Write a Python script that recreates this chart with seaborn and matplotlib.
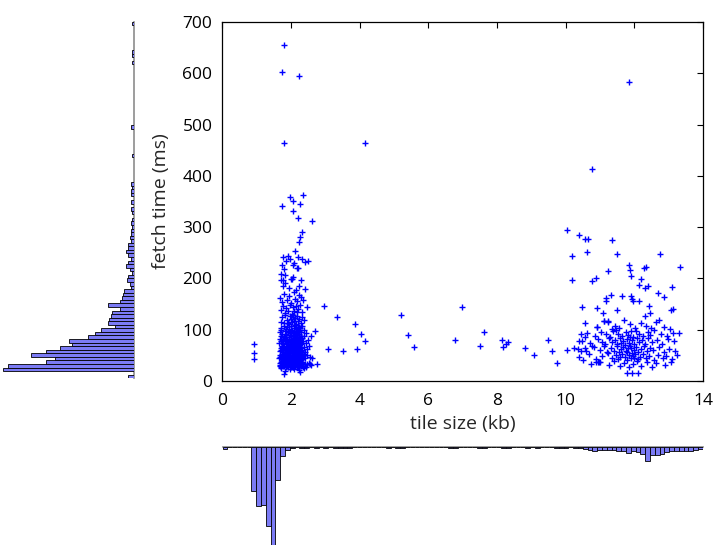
import numpy as np
import pandas as pd
import matplotlib
matplotlib.use("Agg")
import matplotlib.pyplot as plt
import seaborn as sns

# (tile size kb, fetch time ms) pairs
left_core = [
    (1.81, 14), (2.27, 17), (1.82, 20), (2.08, 24), (2.25, 22), (1.70, 25), (2.38, 26), (1.96, 23),
    # 27-40 ms
    (1.67, 31), (1.70, 36), (1.72, 28), (1.74, 39), (1.77, 33), (1.79, 29), (1.81, 37), (1.83, 32),
    (1.85, 27), (1.86, 35), (1.88, 39), (1.90, 30), (1.92, 34), (1.93, 28), (1.95, 38), (1.97, 31),
    (1.98, 36), (2.00, 29), (2.02, 33), (2.03, 39), (2.05, 27), (2.06, 35), (2.08, 31), (2.09, 37),
    (2.11, 29), (2.12, 34), (2.14, 39), (2.15, 32), (2.17, 28), (2.18, 36), (2.19, 30), (2.21, 38),
    (2.22, 33), (2.23, 27), (2.25, 35), (2.26, 31), (2.27, 39), (2.29, 29), (2.31, 34), (2.33, 37),
    (2.36, 30), (2.40, 33), (2.45, 28), (2.52, 35), (2.58, 31), (1.69, 34), (1.76, 30), (1.84, 38),
    (1.91, 36), (1.99, 27), (2.04, 30), (2.10, 38), (2.16, 34), (2.20, 27), (2.24, 30), (2.28, 36),
    (1.80, 34), (1.94, 32), (2.07, 28), (2.13, 36), (2.48, 32), (2.56, 32),
    (1.68, 29), (1.75, 36), (1.87, 31), (1.96, 35), (2.01, 37), (2.11, 32), (2.19, 34), (2.23, 36),
    (2.30, 31), (2.34, 28), (1.78, 38), (2.05, 33),
    # 40-55 ms
    (1.66, 44), (1.68, 51), (1.71, 47), (1.73, 42), (1.75, 53), (1.78, 45), (1.80, 50), (1.82, 41),
    (1.84, 48), (1.87, 54), (1.89, 43), (1.90, 49), (1.92, 52), (1.94, 46), (1.96, 41), (1.98, 50),
    (2.01, 44), (2.02, 54), (2.04, 47), (2.06, 42), (2.07, 51), (2.09, 45), (2.11, 53), (2.12, 48),
    (2.14, 42), (2.15, 50), (2.17, 45), (2.18, 54), (2.19, 41), (2.20, 48), (2.22, 52), (2.23, 44),
    (2.24, 49), (2.26, 43), (2.27, 53), (2.29, 47), (2.30, 51), (2.32, 42), (2.35, 48), (2.38, 53),
    (2.42, 45), (2.48, 50), (2.55, 46), (1.77, 40), (1.86, 44), (1.99, 47), (2.10, 41), (2.16, 51),
    (2.21, 46), (2.25, 54), (2.05, 50), (1.93, 44), (2.28, 41), (2.13, 46), (1.74, 49), (2.62, 45),
    (1.69, 47), (1.81, 53), (1.88, 46), (1.97, 43), (2.03, 51), (2.08, 48), (2.18, 43), (2.24, 45),
    (2.33, 46), (1.91, 41),
    # 55-70 ms
    (1.67, 58), (1.70, 64), (1.73, 69), (1.76, 56), (1.78, 61), (1.81, 67), (1.83, 57), (1.86, 63),
    (1.88, 68), (1.91, 59), (1.93, 65), (1.95, 56), (1.97, 62), (2.00, 68), (2.02, 58), (2.04, 64),
    (2.06, 69), (2.08, 57), (2.10, 62), (2.12, 67), (2.13, 56), (2.15, 61), (2.17, 66), (2.18, 59),
    (2.20, 64), (2.21, 69), (2.23, 57), (2.25, 62), (2.26, 67), (2.28, 59), (2.30, 65), (2.33, 60),
    (2.37, 66), (2.41, 57), (2.46, 63), (2.53, 68), (1.79, 65), (1.90, 60), (2.01, 63), (2.09, 66),
    (2.16, 58), (2.22, 63), (2.27, 55), (2.14, 69), (1.84, 60),
    (1.71, 61), (1.75, 66), (1.98, 59), (2.05, 61), (2.19, 67), (2.31, 57), (1.94, 68), (2.11, 59),
    # 70-90 ms
    (1.66, 74), (1.69, 82), (1.72, 88), (1.74, 77), (1.77, 71), (1.80, 85), (1.82, 79), (1.85, 73),
    (1.87, 89), (1.89, 81), (1.92, 75), (1.94, 86), (1.96, 71), (1.99, 80), (2.01, 88), (2.03, 74),
    (2.05, 83), (2.07, 77), (2.09, 71), (2.11, 87), (2.13, 79), (2.14, 73), (2.16, 84), (2.18, 76),
    (2.19, 89), (2.21, 72), (2.22, 81), (2.24, 86), (2.25, 75), (2.27, 79), (2.29, 71), (2.31, 84),
    (2.34, 77), (2.38, 88), (2.43, 73), (2.50, 80), (1.78, 80), (1.97, 77), (2.06, 89), (2.15, 78),
    (2.20, 82), (2.23, 74), (2.12, 70), (1.88, 76), (2.28, 88), (2.58, 88),
    (1.70, 78), (1.84, 84), (1.91, 71), (2.02, 79), (2.10, 82), (2.17, 72), (2.26, 83), (2.33, 73),
    # 90-110 ms
    (1.68, 95), (1.72, 103), (1.75, 92), (1.79, 108), (1.82, 98), (1.86, 91), (1.89, 105), (1.92, 96),
    (1.95, 101), (1.98, 93), (2.01, 107), (2.04, 99), (2.06, 94), (2.09, 104), (2.11, 91), (2.13, 109),
    (2.15, 97), (2.17, 102), (2.19, 93), (2.21, 106), (2.23, 98), (2.25, 91), (2.27, 103), (2.30, 96),
    (2.33, 108), (2.37, 100), (2.44, 94), (1.94, 110), (2.08, 97), (2.20, 100),
    (1.71, 99), (1.85, 102), (2.00, 96), (2.14, 92), (2.24, 105),
    # 110-150 ms
    (1.70, 115), (1.74, 124), (1.79, 112), (1.84, 128), (1.88, 118), (1.92, 113), (1.96, 126),
    (2.00, 120), (2.03, 114), (2.07, 129), (2.10, 117), (2.13, 123), (2.16, 111), (2.19, 127),
    (2.22, 116), (2.25, 121), (2.28, 113), (2.33, 125), (2.39, 118), (2.05, 124),
    (1.71, 138), (1.76, 146), (1.82, 133), (1.87, 142), (1.93, 136), (1.98, 149), (2.02, 131),
    (2.06, 144), (2.10, 137), (2.14, 147), (2.18, 134), (2.22, 141), (2.26, 148), (2.31, 135), (2.46, 145),
    # 150-210 ms
    (1.69, 162), (1.74, 154), (1.81, 170), (1.88, 158), (1.94, 166), (2.01, 152), (2.08, 173),
    (2.13, 160), (2.19, 155), (2.24, 168), (2.30, 163), (2.36, 157),
    (1.70, 208), (1.82, 207), (2.06, 203), (1.72, 197), (1.77, 197), (1.99, 198), (2.03, 198),
    (2.28, 196), (1.82, 190), (1.78, 185), (1.95, 182), (2.15, 178), (2.25, 186), (2.40, 180),
]

left_tail = [
    (1.77, 242), (1.91, 244), (1.96, 238), (2.21, 241), (2.32, 238), (2.40, 232), (2.50, 233),
    (1.87, 233), (1.74, 226), (2.19, 221), (2.22, 221), (2.06, 226), (1.80, 218), (2.10, 230),
    (2.13, 253), (2.23, 270), (2.27, 281), (2.31, 291), (2.60, 311), (2.22, 318), (2.07, 332),
    (1.73, 342), (2.27, 346), (2.07, 350), (1.96, 359), (2.35, 363), (1.81, 464), (2.24, 594),
    (1.75, 602), (1.81, 655),
]

middle = [
    (0.92, 71), (0.92, 54), (0.92, 43), (2.76, 32), (2.71, 97), (2.96, 146), (3.08, 62), (3.34, 124),
    (3.53, 58), (3.86, 111), (3.91, 62), (4.05, 92), (4.17, 78), (4.17, 464), (5.20, 128), (5.41, 90),
    (5.58, 66), (6.79, 80), (6.99, 145), (7.51, 69), (7.63, 96), (8.13, 80), (8.16, 67), (8.25, 72),
    (8.31, 75), (8.80, 64), (9.09, 50), (9.49, 80), (9.61, 59), (9.74, 34),
]

right_upper = [
    (10.04, 294), (10.17, 244), (10.18, 197), (10.39, 285), (10.48, 145), (10.56, 276), (10.64, 277),
    (10.62, 251), (10.76, 413), (10.76, 194), (10.89, 201), (10.90, 142), (10.90, 106), (11.09, 133),
    (11.11, 116), (11.23, 116), (11.16, 155), (11.18, 162), (11.31, 168), (11.24, 214), (11.34, 274),
    (11.50, 247), (11.50, 139), (11.65, 166), (11.83, 227), (11.88, 216), (11.89, 205), (11.92, 160),
    (11.96, 155), (11.90, 165), (12.12, 187), (12.12, 155), (12.27, 220), (12.33, 222), (12.20, 199),
    (12.30, 182), (12.40, 185), (12.41, 146), (12.44, 133), (12.30, 126), (12.69, 172), (12.75, 248),
    (12.85, 164), (13.09, 183), (13.05, 138), (13.13, 141), (13.32, 223), (13.31, 93), (11.84, 583),
]

right_lower = [
    (10.04, 60), (10.24, 64), (10.38, 77), (10.44, 92), (10.45, 59), (10.50, 41), (10.56, 86),
    (10.55, 65), (10.76, 68), (10.89, 37), (10.95, 37), (11.01, 37),
    (10.55, 112), (10.92, 106), (11.12, 116), (11.23, 115), (11.42, 108), (11.55, 103), (11.70, 118),
    (11.88, 110), (12.02, 104), (12.18, 113), (12.35, 108), (12.48, 103), (12.62, 115), (12.85, 106),
    (13.02, 101), (11.35, 101), (12.72, 118),
    (10.62, 93), (10.85, 88), (11.02, 95), (11.18, 91), (11.30, 86), (11.38, 97), (11.52, 92),
    (11.63, 88), (11.74, 95), (11.82, 90), (11.95, 86), (12.05, 98), (12.12, 92), (12.25, 87),
    (12.38, 95), (12.45, 89), (12.58, 99), (12.78, 92), (12.95, 87), (13.12, 94), (11.47, 99), (11.90, 97),
    (10.48, 78), (10.70, 73), (10.95, 81), (11.05, 76), (11.15, 71), (11.27, 83), (11.36, 75),
    (11.44, 80), (11.50, 72), (11.58, 84), (11.66, 77), (11.72, 70), (11.79, 82), (11.85, 74),
    (11.92, 79), (11.98, 71), (12.06, 84), (12.14, 76), (12.22, 80), (12.31, 72), (12.40, 83),
    (12.52, 75), (12.66, 79), (12.80, 71), (12.98, 82), (13.15, 77), (11.62, 73), (11.88, 85),
    (10.35, 63), (10.60, 58), (10.82, 66), (11.00, 60), (11.10, 68), (11.20, 57), (11.32, 64),
    (11.41, 59), (11.49, 69), (11.55, 56), (11.61, 62), (11.68, 67), (11.75, 58), (11.81, 64),
    (11.87, 69), (11.93, 55), (11.99, 61), (12.04, 67), (12.11, 57), (12.19, 63), (12.28, 68),
    (12.36, 58), (12.44, 64), (12.55, 60), (12.70, 66), (12.86, 57), (13.00, 62), (13.18, 59),
    (11.78, 56), (11.90, 65),
    (10.40, 47), (10.68, 52), (10.88, 43), (11.06, 49), (11.22, 54), (11.34, 45), (11.45, 50),
    (11.53, 42), (11.64, 53), (11.71, 46), (11.77, 41), (11.84, 51), (11.91, 44), (11.97, 49),
    (12.03, 53), (12.09, 42), (12.16, 47), (12.24, 52), (12.33, 44), (12.42, 49), (12.56, 41),
    (12.68, 51), (12.82, 45), (12.93, 48), (13.10, 43), (13.24, 50), (11.58, 47), (12.00, 45),
    (10.74, 33), (10.98, 36), (11.26, 31), (11.40, 38), (11.59, 29), (11.70, 35), (11.83, 27),
    (11.95, 33), (12.07, 38), (12.20, 30), (12.37, 36), (12.50, 28), (12.63, 34), (12.90, 31),
    (13.05, 37), (11.78, 16), (11.94, 16), (12.10, 16),
]

# marginal histogram counts, 100 equal bins spanning the data range
size_counts = [
    3, 0, 0, 0, 0, 0, 80, 107, 105, 144,
    178, 60, 16, 5, 2, 0, 1, 1, 0, 1,
    0, 1, 0, 1, 1, 1, 2, 0, 0, 0,
    0, 0, 0, 0, 1, 0, 1, 1, 0, 0,
    0, 0, 0, 0, 0, 0, 0, 1, 1, 0,
    0, 0, 0, 1, 1, 0, 0, 0, 2, 2,
    0, 0, 0, 1, 0, 1, 0, 0, 0, 1,
    1, 1, 0, 2, 2, 3, 5, 7, 5, 5,
    6, 6, 7, 8, 10, 7, 9, 13, 25, 14,
    14, 13, 9, 8, 7, 8, 8, 7, 5, 3,
]
time_counts = [
    4, 0, 97, 93, 65, 58, 76, 65, 55, 46,
    48, 34, 29, 24, 14, 19, 18, 17, 16, 10,
    19, 10, 9, 8, 7, 2, 3, 5, 4, 1,
    3, 6, 4, 2, 4, 6, 4, 4, 2, 3,
    2, 2, 1, 2, 1, 0, 1, 2, 0, 2,
    0, 2, 2, 1, 2, 0, 0, 0, 0, 0,
    0, 0, 1, 0, 0, 0, 0, 0, 0, 0,
    2, 0, 0, 0, 0, 0, 0, 0, 0, 0,
    0, 0, 0, 0, 0, 0, 0, 0, 1, 0,
    1, 1, 0, 0, 0, 0, 0, 0, 0, 1,
]

points = left_core + left_tail + middle + right_upper + right_lower
df = pd.DataFrame(points, columns=["tile_size", "fetch_time"])

sns.set_style("white")
plt.rcParams["font.family"] = ["Open Sans", "DejaVu Sans"]

bar_color = "#7b7bf5"
base_color = "#8c8c8c"

fig = plt.figure(figsize=(7.19, 5.52), dpi=100)
ax = fig.add_axes([0.309, 0.310, 0.669, 0.650])
ax_left = fig.add_axes([0.004, 0.3147, 0.182, 0.646])
ax_bottom = fig.add_axes([0.3095, 0.0127, 0.668, 0.1775])

# main scatter
sns.scatterplot(data=df, x="tile_size", y="fetch_time", marker="+", color="#0000ff",
                s=24, linewidth=1.0, ax=ax, legend=False)
ax.set_xlim(0, 14)
ax.set_ylim(0, 700)
ax.set_xticks(range(0, 15, 2))
ax.set_yticks(range(0, 701, 100))
ax.tick_params(direction="in", top=True, right=True, length=4, width=0.8,
               labelsize=12.5, colors="black")
ax.tick_params(axis="y", pad=7)
ax.tick_params(axis="x", pad=9)
for sp in ax.spines.values():
    sp.set_visible(True)
    sp.set_color("black")
    sp.set_linewidth(0.9)
ax.set_xlabel("tile size (kb)", fontsize=14, labelpad=4)
ax.set_ylabel("fetch time (ms)", fontsize=14, labelpad=9)

# bottom histogram (tile size), hanging downwards
size_edges = np.linspace(df["tile_size"].min(), df["tile_size"].max(), len(size_counts) + 1)
size_df = pd.DataFrame({"mid": (size_edges[:-1] + size_edges[1:]) / 2, "count": size_counts})
sns.histplot(data=size_df, x="mid", weights="count", bins=list(size_edges), ax=ax_bottom,
             color=bar_color, edgecolor="black", linewidth=0.6, alpha=1)
ax_bottom.set_xlim(size_edges[0], size_edges[-1])
ax_bottom.set_ylim(max(size_counts), 0)

# left histogram (fetch time), growing to the left
time_edges = np.linspace(df["fetch_time"].min(), df["fetch_time"].max(), len(time_counts) + 1)
time_df = pd.DataFrame({"mid": (time_edges[:-1] + time_edges[1:]) / 2, "count": time_counts})
sns.histplot(data=time_df, y="mid", weights="count", bins=list(time_edges), ax=ax_left,
             color=bar_color, edgecolor="black", linewidth=0.6, alpha=1)
ax_left.set_ylim(time_edges[0], time_edges[-1])
ax_left.set_xlim(max(time_counts), 0)

for h, keep in [(ax_bottom, "top"), (ax_left, "right")]:
    h.set_xticks([])
    h.set_yticks([])
    h.set_xlabel("")
    h.set_ylabel("")
    h.patch.set_alpha(0)
    for name, sp in h.spines.items():
        sp.set_visible(name == keep)
        sp.set_color(base_color)
        sp.set_linewidth(1.2)
        sp.set_zorder(0)

fig.savefig("out.png", dpi=100)
